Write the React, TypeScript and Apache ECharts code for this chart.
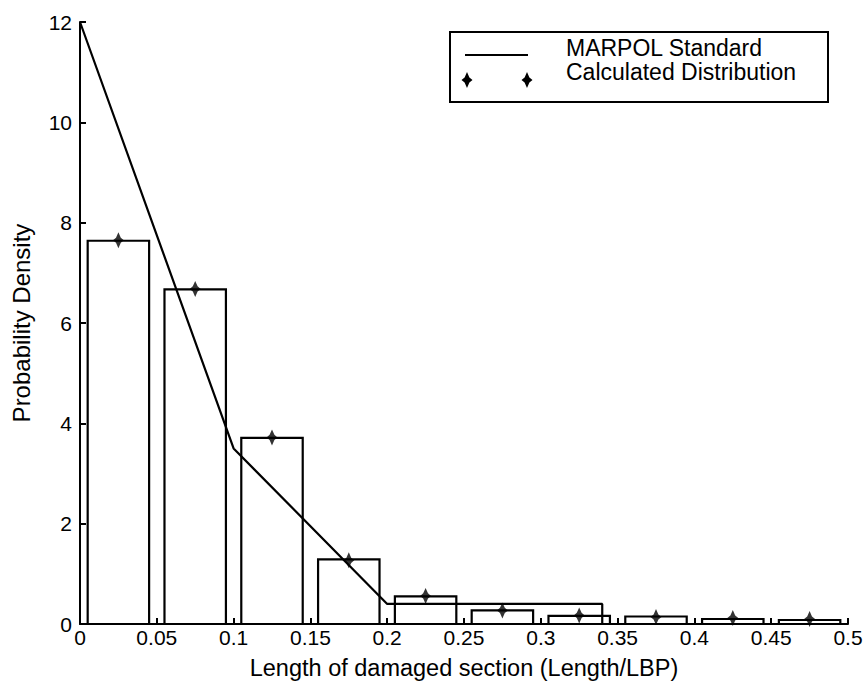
import React, { useEffect, useRef } from "react";
import * as echarts from "echarts";

// Histogram bins (centre of each bin) and bar heights
const binCenters = [0.025, 0.075, 0.125, 0.175, 0.225, 0.275, 0.325, 0.375, 0.425, 0.475];
const barHeights = [7.64, 6.67, 3.71, 1.29, 0.55, 0.27, 0.16, 0.15, 0.1, 0.08];
// Calculated distribution markers
const calcValues = [7.65, 6.68, 3.72, 1.27, 0.56, 0.27, 0.17, 0.14, 0.12, 0.1];
// MARPOL standard line
const marpolX = [0, 0.1, 0.2, 0.34, 0.34, 0.5];
const marpolY = [12, 3.5, 0.4, 0.4, 0, 0];

const FONT = "'Liberation Sans', Arial, Helvetica, sans-serif";
const HALF_W = 0.02;
const MARKER_PATH =
  "path://M0,-8 L2.4,-2.6 L5.5,0 L2.4,2.6 L0,8 L-2.4,2.6 L-5.5,0 L-2.4,-2.6 Z";

function starPoints(cx: number, cy: number): number[][] {
  return [
    [cx, cy - 8],
    [cx + 2.4, cy - 2.6],
    [cx + 5.5, cy],
    [cx + 2.4, cy + 2.6],
    [cx, cy + 8],
    [cx - 2.4, cy + 2.6],
    [cx - 5.5, cy],
    [cx - 2.4, cy - 2.6],
  ];
}

export default function App() {
  const ref = useRef<HTMLDivElement>(null);
  useEffect(() => {
    if (!ref.current) return;
    const chart = echarts.init(ref.current, null, { renderer: "svg" });
    const barData = binCenters.map((c, i) => [c, barHeights[i]]);
    const calcData = binCenters.map((c, i) => [c, calcValues[i]]);
    const lineData = marpolX.map((x, i) => [x, marpolY[i]]);
    chart.setOption({
      animation: false,
      backgroundColor: "#fff",
      grid: { left: 80, right: 19, top: 22, bottom: 57 },
      xAxis: {
        type: "value",
        min: 0,
        max: 0.5,
        interval: 0.05,
        name: "Length of damaged section (Length/LBP)",
        nameLocation: "middle",
        nameGap: 32,
        nameTextStyle: { color: "#000", fontSize: 23.5, fontFamily: FONT },
        axisLine: { show: true, lineStyle: { color: "#000", width: 2 } },
        axisTick: { show: true, inside: true, length: 6, lineStyle: { color: "#000", width: 2 } },
        axisLabel: { color: "#000", fontSize: 21, fontFamily: FONT, margin: 3 },
        splitLine: { show: false },
      },
      yAxis: {
        type: "value",
        min: 0,
        max: 12,
        interval: 2,
        name: "Probability Density",
        nameLocation: "middle",
        nameGap: 47,
        nameRotate: 90,
        nameTextStyle: { color: "#000", fontSize: 24, fontFamily: FONT },
        axisLine: { show: true, lineStyle: { color: "#000", width: 2 } },
        axisTick: { show: true, inside: true, length: 6, lineStyle: { color: "#000", width: 2 } },
        axisLabel: { color: "#000", fontSize: 21, fontFamily: FONT, margin: 8 },
        splitLine: { show: false },
      },
      series: [
        {
          type: "custom",
          name: "Histogram",
          data: barData,
          renderItem: (params: any, api: any) => {
            const c = api.value(0);
            const h = api.value(1);
            const p0 = api.coord([c - HALF_W, h]);
            const p1 = api.coord([c + HALF_W, 0]);
            return {
              type: "rect",
              shape: { x: p0[0], y: p0[1], width: p1[0] - p0[0], height: p1[1] - p0[1] },
              style: { fill: "none", stroke: "#000", lineWidth: 2.2 },
            };
          },
          z: 2,
        },
        {
          type: "line",
          name: "MARPOL Standard",
          data: lineData,
          symbol: "none",
          lineStyle: { color: "#000", width: 2.2 },
          z: 3,
        },
        {
          type: "scatter",
          name: "Calculated Distribution",
          data: calcData,
          symbol: MARKER_PATH,
          symbolSize: [11, 16],
          itemStyle: { color: "#000" },
          z: 4,
        },
      ],
      graphic: [
        {
          type: "rect",
          shape: { x: 450, y: 32, width: 378, height: 70 },
          style: { fill: "#fff", stroke: "#000", lineWidth: 2 },
          z: 10,
        },
        {
          type: "line",
          shape: { x1: 465, y1: 55, x2: 528, y2: 55 },
          style: { stroke: "#000", lineWidth: 2.2 },
          z: 11,
        },
        { type: "polygon", shape: { points: starPoints(467, 80) }, style: { fill: "#000" }, z: 11 },
        { type: "polygon", shape: { points: starPoints(527, 80) }, style: { fill: "#000" }, z: 11 },
        {
          type: "text",
          x: 566,
          y: 48,
          style: {
            text: "MARPOL Standard",
            fill: "#000",
            font: `23px ${FONT}`,
            lineHeight: 22,
            verticalAlign: "middle",
          },
          z: 11,
        },
        {
          type: "text",
          x: 566,
          y: 72,
          style: {
            text: "Calculated Distribution",
            fill: "#000",
            font: `23px ${FONT}`,
            lineHeight: 22,
            verticalAlign: "middle",
          },
          z: 11,
        },
      ],
    });
    return () => chart.dispose();
  }, []);
  return (
    <div
      ref={ref}
      style={{ position: "absolute", left: 0, top: 0, width: 867, height: 685 }}
    />
  );
}
